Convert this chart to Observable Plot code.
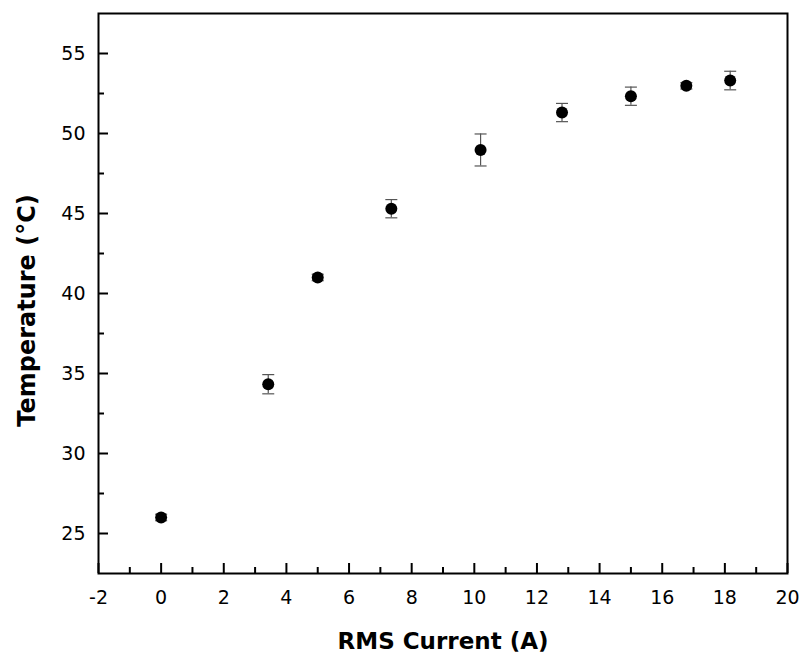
<!DOCTYPE html>
<html>
<head>
<meta charset="utf-8">
<script src="https://cdn.jsdelivr.net/npm/d3@7"></script>
<script src="https://cdn.jsdelivr.net/npm/@observablehq/plot@0.6"></script>
<style>
  html, body { margin: 0; padding: 0; background: #fff; }
  #chart { width: 804px; height: 656px; }
</style>
</head>
<body>
<div id="chart"></div>
<script>
// Data
const current = [0, 3.42, 5.0, 7.35, 10.2, 12.8, 15.0, 16.77, 18.17];
const temperature = [26.0, 34.33, 41.0, 45.3, 48.97, 51.31, 52.33, 52.98, 53.31];
const tempError = [0.2, 0.6, 0.2, 0.57, 1.0, 0.57, 0.57, 0.2, 0.58];

const xMajorTicks = [-2, 0, 2, 4, 6, 8, 10, 12, 14, 16, 18, 20];
const xMinorTicks = [-1, 1, 3, 5, 7, 9, 11, 13, 15, 17, 19];
const yMajorTicks = [25, 30, 35, 40, 45, 50, 55];
const yMinorTicks = [27.5, 32.5, 37.5, 42.5, 47.5, 52.5];

const xTitle = "RMS Current (A)";
const yTitle = "Temperature (°C)";

const data = current.map((c, i) => ({x: c, t: temperature[i], e: tempError[i]}));

const capSymbol = {
  draw(context, size) {
    context.moveTo(-6, 0);
    context.lineTo(6, 0);
  }
};

const fmt = d => String(d);

const chart = Plot.plot({
  width: 804,
  height: 656,
  marginLeft: 98,
  marginRight: 17,
  marginTop: 13,
  marginBottom: 83,
  style: {fontFamily: "'DejaVu Sans', Verdana, sans-serif", background: "#fff", color: "#000"},
  x: {domain: [-2, 20]},
  y: {domain: [22.5, 57.5]},
  marks: [
    // error bars
    Plot.ruleX(data, {x: "x", y1: d => d.t - d.e, y2: d => d.t + d.e, stroke: "#555", strokeWidth: 1.2}),
    Plot.dot(data, {x: "x", y: d => d.t - d.e, symbol: capSymbol, stroke: "#555", strokeWidth: 1.2, fill: "none"}),
    Plot.dot(data, {x: "x", y: d => d.t + d.e, symbol: capSymbol, stroke: "#555", strokeWidth: 1.2, fill: "none"}),
    // points
    Plot.dot(data, {x: "x", y: "t", r: 6, fill: "#000", stroke: "none"}),
    // inward ticks
    Plot.axisX({ticks: xMajorTicks, tickSize: -10, strokeWidth: 2, tickFormat: () => "", label: null}),
    Plot.axisX({ticks: xMinorTicks, tickSize: -6, strokeWidth: 2, tickFormat: () => "", label: null}),
    Plot.axisY({ticks: yMajorTicks, tickSize: -10, strokeWidth: 2, tickFormat: () => "", label: null}),
    Plot.axisY({ticks: yMinorTicks, tickSize: -6, strokeWidth: 2, tickFormat: () => "", label: null}),
    // tick labels
    Plot.axisX({ticks: xMajorTicks, tickSize: 0, tickPadding: 17, fontSize: 19, tickFormat: fmt, label: null}),
    Plot.axisY({ticks: yMajorTicks, tickSize: 0, tickPadding: 13, fontSize: 19, tickFormat: fmt, label: null}),
    Plot.frame({stroke: "#000", strokeWidth: 2}),
    // axis titles
    Plot.text([xTitle], {frameAnchor: "bottom", dy: 68, lineAnchor: "middle", fontSize: 23, fontWeight: "bold"}),
    Plot.text([yTitle], {frameAnchor: "left", rotate: -90, dx: -64, dy: 17, lineAnchor: "bottom", textAnchor: "middle", fontSize: 24, fontWeight: "bold"})
  ]
});

document.getElementById("chart").appendChild(chart);
</script>
</body>
</html>
